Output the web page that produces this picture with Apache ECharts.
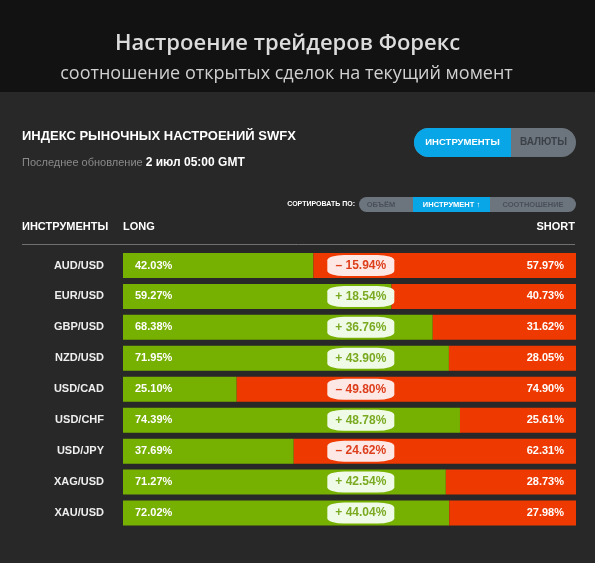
<!DOCTYPE html>
<html><head><meta charset="utf-8">
<script src="https://cdn.jsdelivr.net/npm/echarts@6/dist/echarts.min.js"></script>
<style>html,body{margin:0;padding:0;background:#282828}#c{width:595px;height:563px}</style>
</head><body><div id="c"></div>
<script>
const instruments = ['AUD/USD','EUR/USD','GBP/USD','NZD/USD','USD/CAD','USD/CHF','USD/JPY','XAG/USD','XAU/USD'];
const longPct  = [42.03, 59.27, 68.38, 71.95, 25.10, 74.39, 37.69, 71.27, 72.02];
const shortPct = [57.97, 40.73, 31.62, 28.05, 74.90, 25.61, 62.31, 28.73, 27.98];
const diffPct  = [-15.94, 18.54, 36.76, 43.90, -49.80, 48.78, -24.62, 42.54, 44.04];

const GREEN = '#76b000', RED = '#ee3a00';
const sans = 'Liberation Sans, Arial, sans-serif';
const chart = echarts.init(document.getElementById('c'), null, {renderer:'canvas'});

chart.setOption({
  backgroundColor: '#282828',
  animation: false,
  graphic: [
    {type:'rect', shape:{x:0,y:0,width:595,height:92}, style:{fill:'#121212'}, z:-1},
    {type:'text', x:287.5, y:44, style:{text:'Настроение трейдеров Форекс', font:'600 22px "Open Sans", sans-serif', fill:'#dcdcdc', align:'center', verticalAlign:'middle'}},
    {type:'text', x:286.5, y:74, style:{text:'соотношение открытых сделок на текущий момент', font:'18px "Open Sans", sans-serif', fill:'#d0d0d0', align:'center', verticalAlign:'middle'}},
    {type:'text', x:22, y:136, style:{text:'ИНДЕКС РЫНОЧНЫХ НАСТРОЕНИЙ SWFX', font:'bold 13px '+sans, fill:'#ffffff', verticalAlign:'middle'}},
    {type:'text', x:22, y:163, style:{rich:{a:{font:'11px '+sans, fill:'#8a8a8a'}, b:{font:'bold 12px '+sans, fill:'#ffffff'}}, text:'{a|Последнее обновление }{b|2 июл 05:00 GMT}', verticalAlign:'middle'}},
    // toggle
    {type:'rect', shape:{x:414,y:128,width:162,height:29,r:14.5}, style:{fill:'#6c747d'}},
    {type:'rect', shape:{x:414,y:128,width:97,height:29,r:[14.5,0,0,14.5]}, style:{fill:'#08a6e6'}},
    {type:'text', x:462.5, y:142.5, style:{text:'ИНСТРУМЕНТЫ', font:'bold 9.5px '+sans, fill:'#ffffff', align:'center', verticalAlign:'middle'}},
    {type:'text', x:543.5, y:142.5, style:{text:'ВАЛЮТЫ', font:'bold 10px '+sans, fill:'#3c4147', align:'center', verticalAlign:'middle'}},
    // sort
    {type:'text', x:355, y:204.5, style:{text:'СОРТИРОВАТЬ ПО:', font:'bold 7px '+sans, fill:'#ffffff', align:'right', verticalAlign:'middle'}},
    {type:'rect', shape:{x:359,y:197,width:217,height:15,r:7.5}, style:{fill:'#6c747d'}},
    {type:'rect', shape:{x:413,y:197,width:77,height:15}, style:{fill:'#08a6e6'}},
    {type:'text', x:381, y:204.5, style:{text:'ОБЪЁМ', font:'bold 7.5px '+sans, fill:'#4a5058', align:'center', verticalAlign:'middle'}},
    {type:'text', x:451.5, y:204.5, style:{text:'ИНСТРУМЕНТ ↑', font:'bold 7.5px '+sans, fill:'#ffffff', align:'center', verticalAlign:'middle'}},
    {type:'text', x:533, y:204.5, style:{text:'СООТНОШЕНИЕ', font:'bold 7.5px '+sans, fill:'#4a5058', align:'center', verticalAlign:'middle'}},
    // header row
    {type:'text', x:22, y:227, style:{text:'ИНСТРУМЕНТЫ', font:'bold 11px '+sans, fill:'#ffffff', verticalAlign:'middle'}},
    {type:'text', x:123, y:227, style:{text:'LONG', font:'bold 11px '+sans, fill:'#ffffff', verticalAlign:'middle'}},
    {type:'text', x:575, y:227, style:{text:'SHORT', font:'bold 11px '+sans, fill:'#ffffff', align:'right', verticalAlign:'middle'}},
    {type:'line', shape:{x1:22,y1:244.5,x2:575,y2:244.5}, style:{stroke:'#707070', lineWidth:1}}
  ],
  grid: {left:123, right:19, top:250, bottom:34.5, containLabel:false},
  xAxis: {type:'value', min:0, max:100, show:false},
  yAxis: {
    type:'category', data:instruments, inverse:true,
    axisLine:{show:false}, axisTick:{show:false}, splitLine:{show:false},
    axisLabel:{color:'#eeeeee', fontFamily:sans, fontWeight:'bold', fontSize:11, margin:19}
  },
  series: [
    {type:'bar', stack:'s', data:longPct, barWidth:25, itemStyle:{color:GREEN},
     label:{show:true, position:'insideLeft', distance:12, color:'#ffffff', fontFamily:sans, fontWeight:'bold', fontSize:11, formatter:p=>p.value.toFixed(2)+'%'}},
    {type:'bar', stack:'s', data:shortPct, barWidth:25, itemStyle:{color:RED},
     label:{show:true, position:'insideRight', distance:12, color:'#ffffff', fontFamily:sans, fontWeight:'bold', fontSize:11, formatter:p=>p.value.toFixed(2)+'%'}},
    {type:'scatter', symbol:'roundRect', symbolSize:[67,21], z:5,
     data: diffPct.map((d,i)=>({value:[52.5, instruments[i]], d:d,
       itemStyle:{color: d<0 ? '#fde8e6' : '#effbe6', opacity:1},
       label:{color: d<0 ? '#dd3e1c' : '#7aaa22'}})),
     itemStyle:{opacity:1},
     label:{show:true, position:'inside', fontFamily:sans, fontSize:12, fontWeight:'bold',
       formatter:p=>{const d=p.data.d; return (d<0?'– ':'+ ')+Math.abs(d).toFixed(2)+'%';}}}
  ]
});
</script></body></html>
